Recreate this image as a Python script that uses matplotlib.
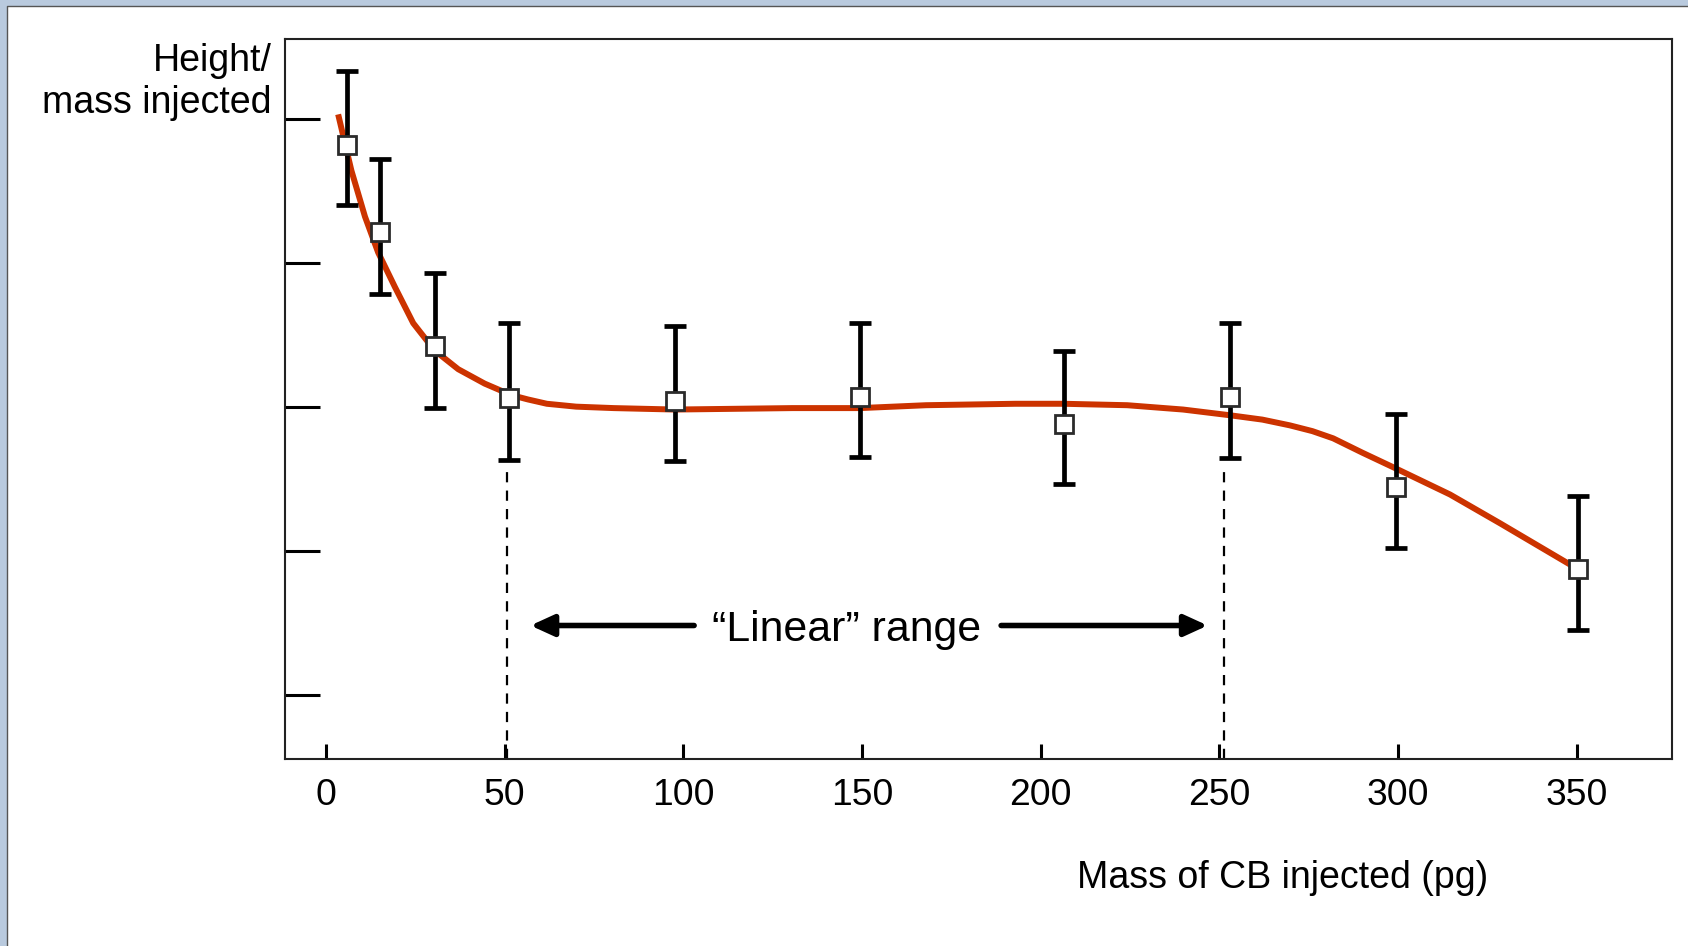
import matplotlib

matplotlib.use("Agg")
import matplotlib.pyplot as plt
from matplotlib.lines import Line2D
from matplotlib.patches import Rectangle

plt.rcParams["font.family"] = ["Liberation Sans", "DejaVu Sans"]

# measured points (mass in pg, height/mass in arbitrary units)
mass = [6, 15, 30.4, 51.2, 97.6, 149.4, 206.4, 253.0, 299.4, 350.2]
height_mean = [4.82, 4.21, 3.42, 3.06, 3.04, 3.07, 2.88, 3.07, 2.44, 1.87]
err_low = [0.42, 0.43, 0.43, 0.43, 0.42, 0.42, 0.42, 0.43, 0.42, 0.42]
err_high = [0.51, 0.51, 0.51, 0.52, 0.52, 0.51, 0.51, 0.51, 0.51, 0.51]

# hand-drawn trend curve
curve_x = [3.4, 7.1, 10.9, 14.6, 19.3, 24.4, 30.4, 37.0, 44.4, 51.9, 56.5, 61.8,
           70.0, 80.5, 97.6, 130.5, 149.4, 167.9, 192.9, 206.4, 224.2, 239.8,
           253.0, 262.0, 269.7, 276.0, 281.8, 290.0, 299.4, 314.5, 328.5, 349.0]
curve_y = [5.03, 4.64, 4.32, 4.07, 3.83, 3.58, 3.39, 3.26, 3.16, 3.08, 3.05, 3.02,
           3.00, 2.99, 2.98, 2.99, 2.99, 3.01, 3.02, 3.02, 3.01, 2.98,
           2.94, 2.91, 2.87, 2.83, 2.78, 2.68, 2.57, 2.39, 2.19, 1.89]

xticks = [0, 50, 100, 150, 200, 250, 300, 350]
yticks = [1, 2, 3, 4, 5]

range_edges = [50.6, 251.3]
range_label = "\u201cLinear\u201d range"

RED = "#cc3300"

fig = plt.figure(figsize=(16.88, 9.46), dpi=100)
fig.patch.set_facecolor("white")

# slide-style border at top and left
band = "#b9cade"
fig.patches.append(Rectangle((0, 1 - 6 / 946), 1, 6 / 946, transform=fig.transFigure,
                             facecolor=band, edgecolor="none", zorder=0))
fig.patches.append(Rectangle((0, 0), 7 / 1688, 1, transform=fig.transFigure,
                             facecolor=band, edgecolor="none", zorder=0))
fig.lines.append(Line2D([7 / 1688, 7 / 1688, 1], [0, 1 - 6.5 / 946, 1 - 6.5 / 946],
                        transform=fig.transFigure, color="#555555", lw=1.0))

ax = fig.add_axes([0.1690, 0.1977, 0.8217, 0.7613])
ax.set_xlim(-11.4, 376.7)
ax.set_ylim(0.553, 5.555)

ax.plot(curve_x, curve_y, color=RED, lw=4.3, solid_capstyle="butt",
        solid_joinstyle="round", zorder=2)
ax.errorbar(mass, height_mean, yerr=[err_low, err_high], fmt="none",
            ecolor="black", elinewidth=3.4, capsize=8, capthick=3.4, zorder=3)
ax.plot(mass, height_mean, ls="none", marker="s", markersize=12.5,
        markerfacecolor="white", markeredgecolor="#2b2b2b", markeredgewidth=2, zorder=4)

ax.vlines(range_edges, 0.553, 2.6, colors="black", lw=1.6,
          linestyles=(0, (4.6, 3.7)), zorder=1)

arrow_y = 1.48
arrow_kw = dict(arrowstyle="-|>,head_length=0.7,head_width=0.32", lw=4, color="black",
                mutation_scale=20, shrinkA=0, shrinkB=0)
ax.annotate("", xy=(57.2, arrow_y), xytext=(103.0, arrow_y), arrowprops=arrow_kw)
ax.annotate("", xy=(246.7, arrow_y), xytext=(188.9, arrow_y), arrowprops=arrow_kw)
ax.text(145.6, 1.375, range_label, ha="center", va="baseline", fontsize=30.8)

ax.set_xticks(xticks)
ax.set_xticklabels([str(t) for t in xticks], fontsize=26.8)
ax.set_yticks(yticks)
ax.tick_params(axis="x", direction="in", length=10.6, width=2.2, pad=13.5)
ax.tick_params(axis="y", direction="in", length=25, width=2.2, labelleft=False)
for s in ax.spines.values():
    s.set_linewidth(1.5)
    s.set_color("#222222")

ax.set_xlabel("Mass of CB injected (pg)", fontsize=27, va="baseline")
ax.xaxis.set_label_coords(0.7193, -0.1795)

# baseline alignment of multi-line text uses the last line
fig.text(271.7 / 1688, 1 - 112.7 / 946, "Height/\nmass injected", ha="right",
         va="baseline", multialignment="right", fontsize=27)

fig.savefig("out.png", dpi=100)
